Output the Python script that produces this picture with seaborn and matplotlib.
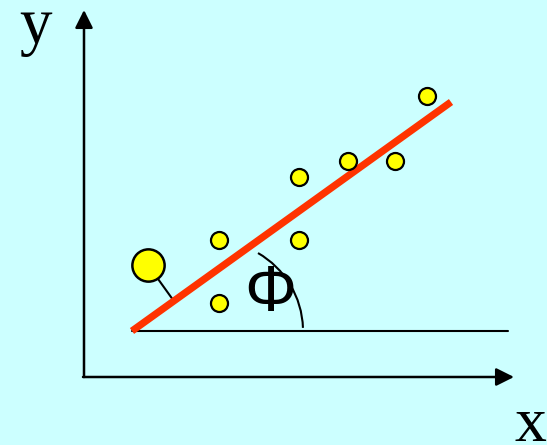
import numpy as np
import pandas as pd
import seaborn as sns
import matplotlib.pyplot as plt
from matplotlib.patches import Arc

# datos (unidades ~ pixeles desde el origen de los ejes)
pts_x = [135, 135, 215, 215, 264, 311, 343]
pts_y = [137, 74, 200, 137, 216, 216, 281]
big_x = [64]
big_y = [112]
recta_x = [48, 367]
recta_y = [46, 275]
base_x = [48, 424]
base_y = [46, 46]
arco_centro = (129, 46)
arco_radio = 90
arco_ang = (2, 60)

fondo = "#ccffff"
sns.set_style("white")

fig = plt.figure(figsize=(5.47, 4.45), dpi=100, facecolor=fondo)
ax = fig.add_axes([0, 0, 1, 1])
ax.set_facecolor(fondo)
ax.set_xlim(-84, 463)
ax.set_ylim(-68, 377)
ax.axis("off")

# ejes con flecha
flecha = dict(arrowstyle="-|>", color="black", lw=1.8, mutation_scale=27, shrinkA=0, shrinkB=0)
ax.annotate("", xy=(0, 367), xytext=(0, 0), arrowprops=flecha)
ax.annotate("", xy=(430, 0), xytext=(-1, 0), arrowprops=flecha)

# linea base y arco del angulo
ax.plot(base_x, base_y, color="black", lw=1.5, zorder=2)
ax.add_patch(Arc(arco_centro, 2 * arco_radio, 2 * arco_radio, theta1=arco_ang[0], theta2=arco_ang[1],
                 color="black", lw=1.5, zorder=2))

# recta de ajuste
ax.plot(recta_x, recta_y, color="#ff3300", lw=5.2, solid_capstyle="butt", zorder=3)

# distancia del punto grande a la recta
p0 = np.array([recta_x[0], recta_y[0]], float)
d = np.array([recta_x[1] - recta_x[0], recta_y[1] - recta_y[0]], float)
q = np.array([big_x[0], big_y[0]], float)
pie = p0 + d * np.dot(q - p0, d) / np.dot(d, d)
ax.plot([q[0], pie[0]], [q[1], pie[1]], color="black", lw=1.5, zorder=2)

# puntos
df = pd.DataFrame({"x": pts_x, "y": pts_y})
sns.scatterplot(data=df, x="x", y="y", s=150, color="#ffff00", edgecolor="black", linewidth=1.6, ax=ax, zorder=4)
sns.scatterplot(x=big_x, y=big_y, s=540, color="#ffff00", edgecolor="black", linewidth=1.8, ax=ax, zorder=4)
ax.set_xlabel("")
ax.set_ylabel("")

# textos
ax.text(-49, 334, "y", fontsize=47, family="Liberation Serif", color="black", ha="center", va="baseline")
ax.text(446, -64, "x", fontsize=46, family="Liberation Serif", color="black", ha="center", va="baseline")
ax.text(186, 66, "Φ", fontsize=47, family="Liberation Sans", color="black", ha="center", va="baseline", zorder=5)

fig.savefig("out.png", dpi=100, facecolor=fondo)
